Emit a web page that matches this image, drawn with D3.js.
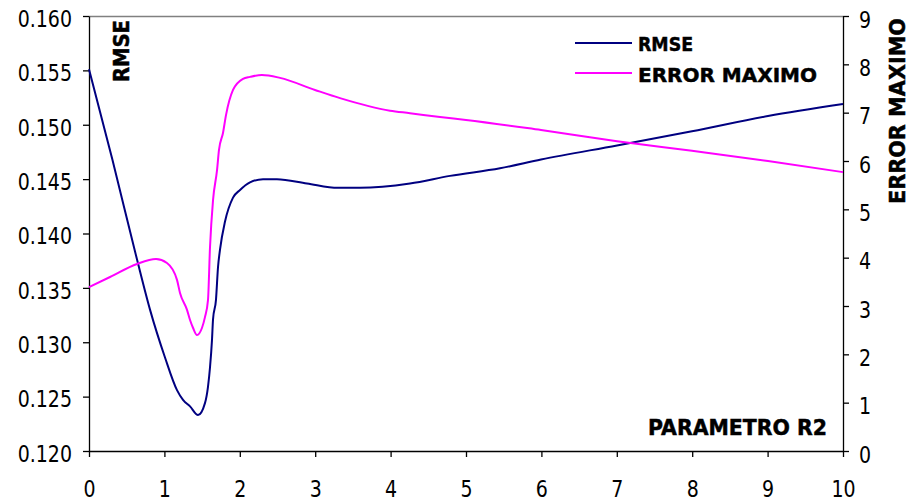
<!DOCTYPE html>
<html>
<head>
<meta charset="utf-8">
<script src="https://cdn.jsdelivr.net/npm/d3@7"></script>
<style>
  html, body { margin: 0; padding: 0; background: #fff; }
  svg { display: block; }
  text { font-family: "DejaVu Sans", Verdana, sans-serif; fill: #000; }
  .bold { font-weight: bold; stroke: #000; stroke-width: 0.5px; }
</style>
</head>
<body>
<svg id="chart" width="911" height="504"></svg>
<script>
// Parameter R2 sweep: RMSE (left axis) and maximum error (right axis)
const rmseX = [0, 0.31, 0.637, 0.809, 1.008, 1.167, 1.247, 1.34, 1.446, 1.538, 1.578, 1.605, 1.631, 1.645, 1.684, 1.711, 1.737, 1.804, 1.91, 2.003, 2.135, 2.308, 2.493, 2.891, 3.302, 3.594, 4.257, 4.788, 5.451, 5.995, 7.003, 7.997, 9.005, 10];
const rmseY = [0.1551, 0.1468, 0.1376, 0.1330, 0.1286, 0.1256, 0.1247, 0.1241, 0.1233, 0.1244, 0.1259, 0.1277, 0.1302, 0.1321, 0.1339, 0.1369, 0.1385, 0.1411, 0.1433, 0.1440, 0.1447, 0.1450, 0.1450, 0.1446, 0.1442, 0.1442, 0.1446, 0.1453, 0.1460, 0.1468, 0.1481, 0.1494, 0.1508, 0.1519];

const errX = [0, 0.279, 0.637, 0.889, 1.034, 1.167, 1.207, 1.3, 1.34, 1.379, 1.432, 1.499, 1.538, 1.578, 1.605, 1.645, 1.698, 1.724, 1.777, 1.817, 1.91, 2.042, 2.135, 2.294, 2.533, 2.997, 3.329, 3.992, 4.257, 4.655, 5.0, 5.995, 7.003, 7.997, 9.005, 10];
const errY = [3.39, 3.60, 3.87, 3.97, 3.89, 3.54, 3.27, 2.92, 2.71, 2.55, 2.40, 2.55, 2.77, 3.12, 4.22, 5.19, 5.81, 6.23, 6.58, 6.95, 7.47, 7.70, 7.74, 7.78, 7.72, 7.47, 7.30, 7.04, 6.99, 6.91, 6.85, 6.64, 6.41, 6.21, 6.00, 5.77];

const xTicks = [0, 1, 2, 3, 4, 5, 6, 7, 8, 9, 10];
const leftTicks = [0.120, 0.125, 0.130, 0.135, 0.140, 0.145, 0.150, 0.155, 0.160];
const rightTicks = [0, 1, 2, 3, 4, 5, 6, 7, 8, 9];

const seriesNames = ["RMSE", "ERROR MAXIMO"];
const seriesColors = ["#000080", "#FF00FF"];

const plotLeft = 89, plotRight = 843, plotTop = 16, plotBottom = 451;
const svg = d3.select("#chart");

const x = d3.scaleLinear().domain([0, 10]).range([plotLeft, plotRight]);
const yL = d3.scaleLinear().domain([0.120, 0.160]).range([plotBottom, plotTop]);
const yR = d3.scaleLinear().domain([0, 9]).range([plotBottom, plotTop]);

// plot area top border
svg.append("line")
  .attr("x1", plotLeft).attr("x2", plotRight)
  .attr("y1", plotTop + 0.5).attr("y2", plotTop + 0.5)
  .attr("stroke", "#808080").attr("stroke-width", 1.3);

const FS = 19, SY = 1.2;

// axes
const gx = svg.append("g")
  .attr("transform", `translate(0,${plotBottom})`)
  .call(d3.axisBottom(x).tickValues(xTicks).tickSize(6).tickSizeOuter(0).tickFormat(d3.format("d")));
gx.selectAll("text")
  .attr("y", null).attr("dy", null)
  .attr("transform", `translate(0,46) scale(1,${SY})`);

const gl = svg.append("g")
  .attr("transform", `translate(${plotLeft},0)`)
  .call(d3.axisLeft(yL).tickValues(leftTicks).tickSize(6).tickSizeOuter(0).tickFormat(d3.format(".3f")));
gl.selectAll("text")
  .attr("x", null).attr("dy", null)
  .attr("transform", `translate(-17,10.3) scale(1,${SY})`);

const gr = svg.append("g")
  .attr("transform", `translate(${plotRight},0)`)
  .call(d3.axisRight(yR).tickValues(rightTicks).tickSize(6).tickSizeOuter(0).tickFormat(d3.format("d")));
gr.selectAll("text")
  .attr("x", null).attr("dy", null)
  .attr("transform", `translate(16,11) scale(1,${SY})`);

[gx, gl, gr].forEach(g => {
  g.selectAll("text").attr("font-size", FS).attr("font-family", "DejaVu Sans, Verdana, sans-serif").attr("fill", "#000");
  g.selectAll("line").attr("stroke", "#000").attr("stroke-width", 1.3);
  g.select(".domain").attr("stroke", "#000").attr("stroke-width", 1.3);
});

// series lines
const rmseData = rmseX.map((d, i) => [d, rmseY[i]]);
const errData = errX.map((d, i) => [d, errY[i]]);

svg.append("path")
  .datum(rmseData)
  .attr("fill", "none")
  .attr("stroke", seriesColors[0])
  .attr("stroke-width", 2)
  .attr("stroke-linejoin", "round")
  .attr("d", d3.line().x(d => x(d[0])).y(d => yL(d[1])).curve(d3.curveMonotoneX));

svg.append("path")
  .datum(errData)
  .attr("fill", "none")
  .attr("stroke", seriesColors[1])
  .attr("stroke-width", 2)
  .attr("stroke-linejoin", "round")
  .attr("d", d3.line().x(d => x(d[0])).y(d => yR(d[1])).curve(d3.curveMonotoneX));

// axis titles
svg.append("text").attr("class", "bold")
  .attr("transform", "translate(129,82) rotate(-90)")
  .attr("font-size", 22)
  .attr("textLength", 62).attr("lengthAdjust", "spacingAndGlyphs")
  .text("RMSE");

svg.append("text").attr("class", "bold")
  .attr("transform", "translate(905,204) rotate(-90)")
  .attr("font-size", 21)
  .attr("textLength", 186).attr("lengthAdjust", "spacingAndGlyphs")
  .text("ERROR MAXIMO");

svg.append("text").attr("class", "bold")
  .attr("x", 648).attr("y", 435)
  .attr("font-size", 22)
  .attr("textLength", 179).attr("lengthAdjust", "spacingAndGlyphs")
  .text("PARAMETRO R2");

// legend
const legend = svg.append("g");
const legendRows = [
  { name: seriesNames[0], color: seriesColors[0], lineY: 43, textY: 50.5, len: 55 },
  { name: seriesNames[1], color: seriesColors[1], lineY: 73, textY: 82, len: 179 }
];
legendRows.forEach(r => {
  legend.append("line")
    .attr("x1", 575).attr("x2", 632)
    .attr("y1", r.lineY).attr("y2", r.lineY)
    .attr("stroke", r.color).attr("stroke-width", 2);
  legend.append("text").attr("class", "bold")
    .attr("x", 638).attr("y", r.textY)
    .attr("font-size", 20)
    .attr("textLength", r.len).attr("lengthAdjust", "spacingAndGlyphs")
    .text(r.name);
});
</script>
</body>
</html>
